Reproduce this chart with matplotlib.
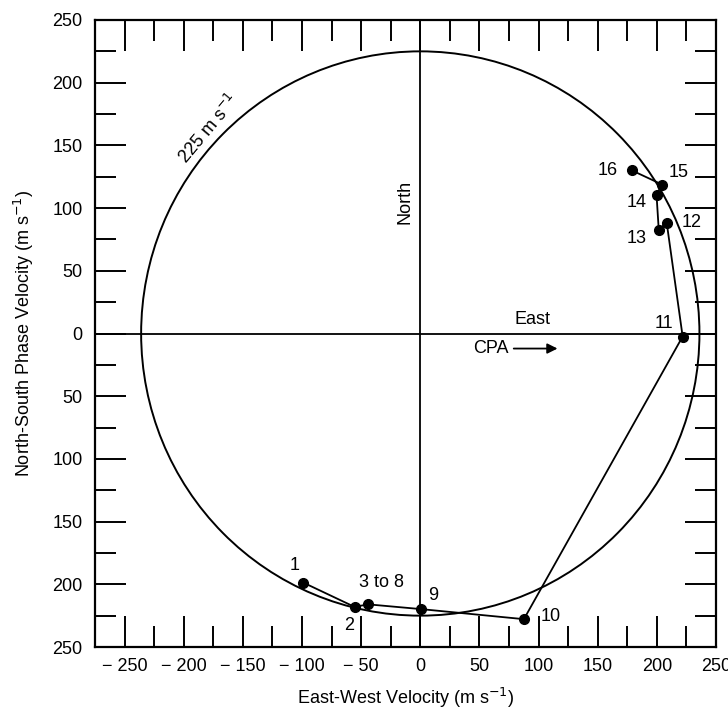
import matplotlib
matplotlib.use("Agg")
import matplotlib.pyplot as plt
from matplotlib.patches import Ellipse
from matplotlib.ticker import MultipleLocator, FuncFormatter

plt.rcParams['font.family'] = ['Liberation Sans', 'DejaVu Sans']

# ---- data ----
point_labels = ["1", "2", "3 to 8", "9", "10", "11", "12", "13", "14", "15", "16"]
east_west = [-99, -55.6, -44, 0.8, 87.6, 221.8, 208.3, 201.6, 199.7, 204.4, 179]
north_south = [-198.6, -218, -216, -219.8, -227.8, -2.4, 88.5, 82.7, 110.8, 118.8, 130]
circle_speed = 225          # m/s label
circle_rx, circle_ry = 236, 225   # as drawn on the page
x_ticks = [-250, -200, -150, -100, -50, 0, 50, 100, 150, 200, 250]
y_ticks = [-250, -200, -150, -100, -50, 0, 50, 100, 150, 200, 250]

# label offsets in pixels (x right, y up)
label_offsets = [(-9, 17), (-5, -19), (13, 22), (12, 14), (27, 3), (-19, 13),
                 (25, 0), (-22, -9), (-20, -8), (17, 12), (-24, 0)]

FS = 13

fig = plt.figure(figsize=(7.28, 7.17), dpi=100)
ax = fig.add_axes([95/728, 1 - 647/717, (716 - 95)/728, (647 - 20)/717])
ax.set_xlim(-275, 250)
ax.set_ylim(-250, 250)

# circle
ax.add_patch(Ellipse((0, 0), 2*circle_rx, 2*circle_ry, fill=False, ec='black', lw=1.4))

# axes lines
ax.axhline(0, color='black', lw=1.3)
ax.axvline(0, color='black', lw=1.3)

# track
ax.plot(east_west, north_south, '-', color='black', lw=1.3,
        marker='o', markersize=7, markerfacecolor='black', zorder=5)

for lab, x, y, (dx, dy) in zip(point_labels, east_west, north_south, label_offsets):
    ax.annotate(lab, (x, y), xytext=(dx, dy), textcoords='offset pixels',
                ha='center', va='center', fontsize=FS)

# text annotations
ax.text(-179, 163, f"{circle_speed} m s$^{{-1}}$", rotation=50, ha='center', va='center',
        fontsize=FS)
ax.text(-13, 105, "North", rotation=90, ha='center', va='center', fontsize=FS)
ax.text(95, 11, "East", ha='center', va='center', fontsize=FS)
ax.text(60, -12, "CPA", ha='center', va='center', fontsize=FS)
ax.annotate("", xy=(116, -12), xytext=(79, -12),
            arrowprops=dict(arrowstyle='-|>', color='black', lw=1.3,
                            mutation_scale=15, shrinkA=0, shrinkB=0))

# ticks
ax.xaxis.set_major_locator(MultipleLocator(50))
ax.xaxis.set_minor_locator(MultipleLocator(25))
ax.yaxis.set_major_locator(MultipleLocator(50))
ax.yaxis.set_minor_locator(MultipleLocator(25))
ax.tick_params(which='both', direction='in', top=True, right=True, width=1.4,
               labelsize=FS)
ax.tick_params(which='major', length=22)
ax.tick_params(which='minor', length=15)
ax.tick_params(axis='x', which='major', pad=8)
ax.tick_params(axis='y', which='major', pad=9)
ax.set_xticks(x_ticks)
ax.set_yticks(y_ticks)
ax.xaxis.set_major_formatter(FuncFormatter(
    lambda v, p: f"\u2212 {int(abs(v))}" if v < 0 else f"{int(v)}"))
ax.yaxis.set_major_formatter(FuncFormatter(lambda v, p: f"{int(abs(v))}"))
ax.set_xlim(-275, 250)
ax.set_ylim(-250, 250)

for s in ax.spines.values():
    s.set_linewidth(1.6)

ax.set_xlabel("East-West Velocity (m s$^{-1}$)", fontsize=FS, labelpad=8)
ax.set_ylabel("North-South Phase Velocity (m s$^{-1}$)", fontsize=FS, labelpad=12)

fig.savefig("out.png", dpi=100)
